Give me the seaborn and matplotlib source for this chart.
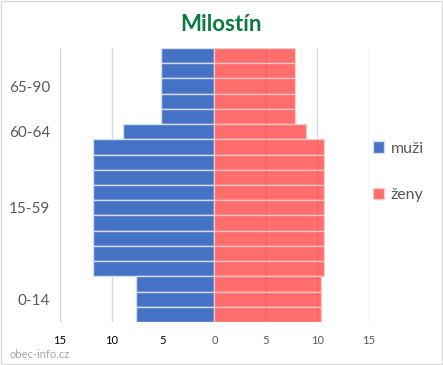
import pandas as pd
import seaborn as sns
import matplotlib.pyplot as plt
from matplotlib.patches import Rectangle

# one row per year band, top to bottom
rows = [f"r{i}" for i in range(18)]
muzi = [5.2, 5.2, 5.2, 5.2, 5.2, 8.9, 11.75, 11.75, 11.75, 11.75, 11.75, 11.75, 11.75, 11.75, 11.75, 7.6, 7.6, 7.6]
zeny = [7.8, 7.8, 7.8, 7.8, 7.8, 8.9, 10.65, 10.65, 10.65, 10.65, 10.65, 10.65, 10.65, 10.65, 10.65, 10.3, 10.3, 10.3]
group_labels = ["65-90", "60-64", "15-59", "0-14"]
group_centers = [2, 5, 10, 16]
x_ticks = [-15, -10, -5, 0, 5, 10, 15]
x_tick_labels = ["15", "10", "5", "0", "5", "10", "15"]

df = pd.DataFrame({"row": rows, "muzi": [-v for v in muzi], "zeny": zeny})

sns.set_style("white")
plt.rcParams['font.family'] = ['Lato', 'DejaVu Sans']

fig = plt.figure(figsize=(4.43, 3.65), dpi=100)
ax = fig.add_axes([60 / 443, 43 / 365, 309 / 443, 274 / 365])
ax.set_axisbelow(True)
ax.xaxis.grid(True, color="#D9D9D9", linewidth=1)

sns.barplot(data=df, x="muzi", y="row", order=rows, orient="h", width=1.0,
            color="#4472C4", saturation=1, edgecolor="#D6DCEB", linewidth=1,
            label="muži", ax=ax)
sns.barplot(data=df, x="zeny", y="row", order=rows, orient="h", width=1.0,
            color="#FF4848", alpha=0.8, saturation=1, edgecolor="#F2D0D0", linewidth=1,
            label="ženy", ax=ax)

ax.set_xlim(-15, 15)
ax.set_ylim(17.5, -0.5)
ax.set_xticks(x_ticks)
ax.set_xticklabels(x_tick_labels, fontsize=8)
for lbl, t in zip(ax.get_xticklabels(), x_ticks):
    lbl.set_color("#000000" if t < 0 else "#595959")
ax.set_yticks(group_centers)
ax.set_yticklabels(group_labels, fontsize=11, color="#595959")
ax.tick_params(axis="x", length=0, pad=9)
ax.tick_params(axis="y", length=0, pad=7)
ax.set_xlabel("")
ax.set_ylabel("")
for s in ax.spines.values():
    s.set_visible(False)

handles, labels = ax.get_legend_handles_labels()
ax.legend_.remove() if ax.legend_ else None
fig.legend(handles, labels, loc="center left", bbox_to_anchor=(373 / 443, 0.53),
           frameon=False, fontsize=11.5, handlelength=0.7, handleheight=0.7,
           handletextpad=0.4, labelspacing=2.0, borderpad=0, borderaxespad=0,
           labelcolor="#595959")

fig.text(221 / 443, 0.932, "Milostín", ha="center", va="center",
         fontsize=16, fontweight="bold", color="#0B7A3E")
fig.text(10 / 443, 0.028, "obec-info.cz", ha="left", va="center",
         fontsize=8, color="#A6A6A6")
fig.patches.append(Rectangle((0.002, 0.002), 0.996, 0.996, transform=fig.transFigure,
                             fill=False, edgecolor="#D9D9D9", linewidth=1))

plt.savefig("out.png", dpi=100)
